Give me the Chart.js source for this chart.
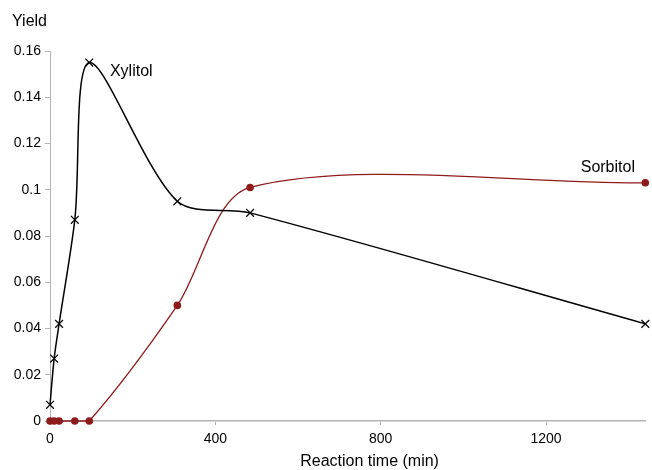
<!DOCTYPE html>
<html>
<head>
<meta charset="utf-8">
<script src="https://cdn.jsdelivr.net/npm/chart.js@4.4.1/dist/chart.umd.min.js"></script>
<style>
  html, body { margin: 0; padding: 0; background: #fff; }
  #wrap { width: 652px; height: 470px; position: relative; }
</style>
</head>
<body>
<div id="wrap"><canvas id="c" width="652" height="470"></canvas></div>
<script>
// Data
const times = [0, 10, 22, 60, 95, 308, 484, 1440];
const xylitol = [0.007, 0.027, 0.042, 0.087, 0.155, 0.095, 0.090, 0.042];
const sorbitol = [0, 0, 0, 0, 0, 0.050, 0.101, 0.103];
const xTicks = [0, 400, 800, 1200];
const yTicks = [0, 0.02, 0.04, 0.06, 0.08, 0.1, 0.12, 0.14, 0.16];
const seriesNames = ['Xylitol', 'Sorbitol'];
const xTitle = 'Reaction time (min)';
const yTitle = 'Yield';

const FONT = '"Liberation Sans", Arial, sans-serif';
const AXIS_GRAY = '#b4b4b4';
const RED = '#8e1b1b';

const toPts = (ys) => times.map((t, i) => ({ x: t, y: ys[i] }));

const labelsPlugin = {
  id: 'labels',
  afterDraw(chart) {
    const ctx = chart.ctx;
    const xs = chart.scales.x, ys = chart.scales.y;
    ctx.save();
    ctx.fillStyle = '#000';
    ctx.font = '16px ' + FONT;
    ctx.textBaseline = 'middle';
    ctx.textAlign = 'left';
    ctx.fillText(yTitle, 12, 22);
    ctx.fillText(seriesNames[0], xs.getPixelForValue(145), ys.getPixelForValue(0.151));
    ctx.textAlign = 'right';
    ctx.fillText(seriesNames[1], xs.getPixelForValue(1415), ys.getPixelForValue(0.1095));
    ctx.textAlign = 'center';
    ctx.fillText(xTitle, xs.getPixelForValue(773), 462);
    ctx.restore();
  }
};

new Chart(document.getElementById('c'), {
  type: 'scatter',
  data: {
    datasets: [
      {
        label: seriesNames[0],
        data: toPts(xylitol),
        showLine: true,
        borderColor: '#000',
        borderWidth: 1.5,
        tension: 0.3,
        pointStyle: 'crossRot',
        pointRadius: 5.5,
        pointBorderWidth: 1.2,
        pointBorderColor: '#000',
        pointBackgroundColor: '#000',
        clip: false,
        order: 1
      },
      {
        label: seriesNames[1],
        data: toPts(sorbitol),
        showLine: true,
        borderColor: RED,
        borderWidth: 1.3,
        tension: 0.3,
        pointStyle: 'circle',
        pointRadius: 3.8,
        pointBorderWidth: 0,
        pointBackgroundColor: RED,
        pointBorderColor: RED,
        clip: false,
        order: 2
      }
    ]
  },
  options: {
    responsive: false,
    animation: false,
    devicePixelRatio: 1,
    layout: { padding: { left: 0, right: 4, top: 51, bottom: 0 } },
    plugins: {
      legend: { display: false },
      tooltip: { enabled: false },
      title: { display: false }
    },
    scales: {
      x: {
        type: 'linear',
        min: 0,
        max: 1440,
        afterFit(s) { s.height = 49; },
        afterBuildTicks(s) { s.ticks = xTicks.map(v => ({ value: v })); },
        grid: { display: true, drawOnChartArea: false, drawTicks: true, tickLength: 4, color: AXIS_GRAY },
        border: { display: true, color: AXIS_GRAY, width: 1.5 },
        ticks: {
          color: '#000',
          font: { family: FONT, size: 14 },
          padding: 6,
          maxRotation: 0,
          callback: (v) => String(v)
        }
      },
      y: {
        type: 'linear',
        min: 0,
        max: 0.16,
        afterFit(s) { s.width = 50; },
        afterBuildTicks(s) { s.ticks = yTicks.map(v => ({ value: v })); },
        grid: { display: true, drawOnChartArea: false, drawTicks: true, tickLength: 5, color: AXIS_GRAY },
        border: { display: true, color: AXIS_GRAY, width: 1 },
        ticks: {
          color: '#000',
          font: { family: FONT, size: 14 },
          padding: 4,
          callback: (v) => String(Number(v.toFixed(2)))
        }
      }
    }
  },
  plugins: [labelsPlugin]
});
</script>
</body>
</html>
